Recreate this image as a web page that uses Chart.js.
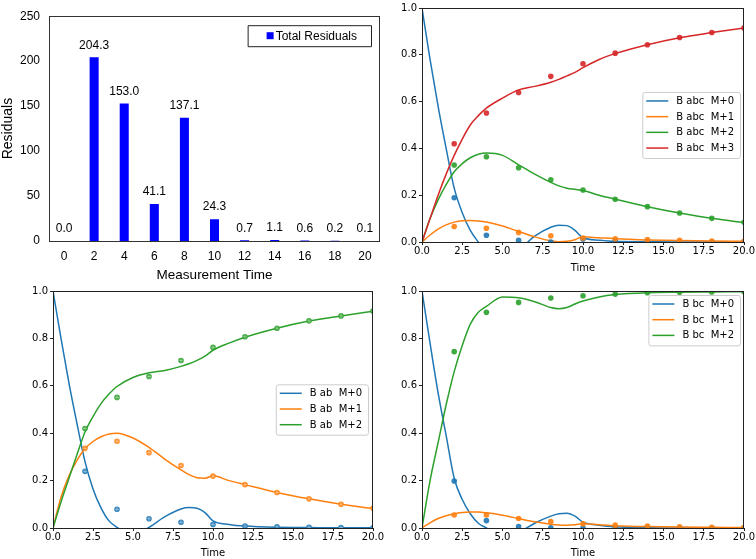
<!DOCTYPE html>
<html>
<head>
<meta charset="utf-8">
<script src="https://cdn.jsdelivr.net/npm/chart.js@4.4.1/dist/chart.umd.min.js"></script>
<style>
  body { margin: 0; background: #fff; width: 756px; height: 559px; position: relative; overflow: hidden; }
  canvas { position: absolute; }
</style>
</head>
<body>
<canvas id="bars" style="left:0;top:0" width="385" height="280"></canvas>
<canvas id="abc" style="left:385px;top:0" width="371" height="280"></canvas>
<canvas id="ab" style="left:0;top:280px" width="385" height="279"></canvas>
<canvas id="bc" style="left:385px;top:280px" width="371" height="279"></canvas>
<script>
// ---- data ----
const barTimes = ['0', '2', '4', '6', '8', '10', '12', '14', '16', '18', '20'];
const residuals = [0.0, 204.3, 153.0, 41.1, 137.1, 24.3, 0.7, 1.1, 0.6, 0.2, 0.1];
const residualTicks = [0, 50, 100, 150, 200, 250];

const measTimes = [2, 4, 6, 8, 10, 12, 14, 16, 18, 20];
const curveTimes = [0, 0.5, 1, 1.5, 2, 2.5, 3, 3.5, 4, 5, 6, 7, 8, 8.5, 9, 9.5, 10, 11, 12, 14, 16, 18, 20];
const timeTicks = [0, 2.5, 5, 7.5, 10, 12.5, 15, 17.5, 20];
const fracTicks = [0, 0.2, 0.4, 0.6, 0.8, 1.0];

// B abc (measured points)
const abcPts0 = [0.189, 0.029, 0.007, 0.0, 0.013, 0.004, 0.002, 0.001, 0.0, 0.0];
const abcPts1 = [0.066, 0.059, 0.041, 0.027, 0.017, 0.014, 0.010, 0.007, 0.004, 0.003];
const abcPts2 = [0.329, 0.364, 0.317, 0.266, 0.222, 0.183, 0.151, 0.124, 0.101, 0.084];
const abcPts3 = [0.420, 0.551, 0.639, 0.708, 0.762, 0.807, 0.843, 0.874, 0.895, 0.915];
// B abc (fitted curves)
const abcFit0 = [1.0, 0.78, 0.58, 0.40, 0.23, 0.125, 0.05, 0.0, -0.04, -0.07, -0.035, 0.025, 0.063, 0.072, 0.070, 0.050, 0.018, 0.008, 0.003, 0.001, 0.0, 0.0, 0.0];
const abcFit1 = [0.0, 0.030, 0.055, 0.073, 0.085, 0.091, 0.092, 0.090, 0.085, 0.068, 0.045, 0.022, 0.005, 0.001, 0.003, 0.010, 0.022, 0.018, 0.014, 0.009, 0.006, 0.004, 0.003];
const abcFit2 = [0.0, 0.10, 0.18, 0.245, 0.30, 0.335, 0.36, 0.375, 0.38, 0.37, 0.33, 0.29, 0.255, 0.24, 0.23, 0.225, 0.22, 0.20, 0.183, 0.151, 0.124, 0.101, 0.083];
const abcFit3 = [0.0, 0.10, 0.20, 0.29, 0.37, 0.44, 0.50, 0.54, 0.572, 0.615, 0.65, 0.665, 0.683, 0.695, 0.71, 0.725, 0.745, 0.78, 0.805, 0.843, 0.873, 0.895, 0.915];

// B ab
const abPts0 = [0.239, 0.079, 0.039, 0.024, 0.015, 0.008, 0.005, 0.003, 0.002, 0.001];
const abPts1 = [0.336, 0.366, 0.318, 0.264, 0.219, 0.183, 0.150, 0.123, 0.100, 0.083];
const abPts2 = [0.420, 0.551, 0.639, 0.707, 0.762, 0.807, 0.843, 0.874, 0.895, 0.915];
const abFit0 = [1.0, 0.80, 0.61, 0.44, 0.28, 0.165, 0.085, 0.03, 0.003, -0.03, 0.003, 0.048, 0.08, 0.086, 0.083, 0.065, 0.03, 0.015, 0.008, 0.003, 0.002, 0.001, 0.001];
const abFit1 = [0.0, 0.13, 0.22, 0.285, 0.335, 0.365, 0.385, 0.397, 0.40, 0.38, 0.34, 0.29, 0.245, 0.225, 0.212, 0.21, 0.22, 0.20, 0.183, 0.15, 0.123, 0.10, 0.082];
const abFit2 = [0.0, 0.11, 0.21, 0.31, 0.405, 0.47, 0.525, 0.565, 0.597, 0.635, 0.655, 0.665, 0.682, 0.693, 0.707, 0.725, 0.75, 0.78, 0.805, 0.843, 0.873, 0.895, 0.915];

// B bc
const bcPts0 = [0.198, 0.031, 0.006, 0.001, 0.0, 0.0, 0.0, 0.0, 0.0, 0.0];
const bcPts1 = [0.055, 0.055, 0.040, 0.027, 0.018, 0.012, 0.008, 0.005, 0.003, 0.002];
const bcPts2 = [0.744, 0.910, 0.952, 0.970, 0.980, 0.987, 0.993, 0.995, 0.996, 0.997];
const bcFit0 = [1.0, 0.78, 0.57, 0.39, 0.21, 0.12, 0.06, 0.02, 0.0, -0.05, -0.02, 0.02, 0.05, 0.06, 0.062, 0.05, 0.025, 0.012, 0.005, 0.001, 0.0, 0.0, 0.0];
const bcFit1 = [0.0, 0.022, 0.040, 0.052, 0.060, 0.065, 0.067, 0.067, 0.064, 0.054, 0.040, 0.026, 0.016, 0.013, 0.012, 0.014, 0.018, 0.014, 0.010, 0.006, 0.004, 0.003, 0.002];
const bcFit2 = [0.0, 0.20, 0.36, 0.52, 0.66, 0.77, 0.86, 0.91, 0.935, 0.975, 0.972, 0.955, 0.93, 0.925, 0.93, 0.945, 0.958, 0.975, 0.985, 0.993, 0.995, 0.996, 0.997];

const colors = ['#1f77b4', '#ff7f0e', '#2ca02c', '#d62728'];
const mplFont = '"DejaVu Sans", sans-serif';
const arialFont = '"Liberation Sans", Arial, sans-serif';

// frame round the plot area, like matplotlib spines
const framePlugin = {
  id: 'frame',
  afterDatasetsDraw(chart, args, opts) {
    const a = chart.chartArea, ctx = chart.ctx;
    ctx.save();
    ctx.strokeStyle = opts.color || '#222';
    ctx.lineWidth = 1;
    ctx.strokeRect(Math.round(a.left) + 0.5, Math.round(a.top) + 0.5,
      Math.round(a.right - a.left) - 1, Math.round(a.bottom - a.top));
    ctx.restore();
  }
};

// legend drawn inside the plot area
const boxLegend = {
  id: 'boxLegend',
  afterDraw(chart, args, o) {
    if (!o || !o.enabled) return;
    const ctx = chart.ctx, a = chart.chartArea;
    const items = chart.data.datasets.filter(d => d.label);
    ctx.save();
    ctx.font = o.font;
    const textW = Math.max(...items.map(d => ctx.measureText(d.label).width));
    const w = o.padL + o.sample + o.gap + textW + o.padR;
    const h = o.padT + (items.length - 1) * o.row + o.padB;
    const x = a.right - o.margin - w;
    const y = o.vAlign === 'center' ? (a.top + a.bottom) / 2 - h / 2 : a.top + o.margin;
    ctx.fillStyle = 'rgba(255,255,255,0.85)';
    ctx.strokeStyle = o.edge;
    ctx.lineWidth = 1;
    ctx.beginPath();
    if (o.radius) ctx.roundRect(x + 0.5, y + 0.5, w, h, o.radius);
    else ctx.rect(x + 0.5, y + 0.5, w, h);
    ctx.fill();
    ctx.stroke();
    items.forEach((d, i) => {
      const cy = y + o.padT + i * o.row;
      const sx = x + o.padL;
      if (o.marker === 'square') {
        ctx.fillStyle = d.backgroundColor;
        ctx.fillRect(sx, cy - o.sample / 2, o.sample, o.sample);
      } else {
        ctx.strokeStyle = d.borderColor;
        ctx.lineWidth = 1.5;
        ctx.beginPath();
        ctx.moveTo(sx, cy);
        ctx.lineTo(sx + o.sample, cy);
        ctx.stroke();
      }
      ctx.fillStyle = '#000';
      ctx.textBaseline = 'middle';
      ctx.textAlign = 'left';
      ctx.fillText(d.label, sx + o.sample + o.gap, cy + 0.5);
    });
    ctx.restore();
  }
};

// value labels above the bars
const barValues = {
  id: 'barValues',
  afterDatasetsDraw(chart) {
    const ctx = chart.ctx;
    const meta = chart.getDatasetMeta(0);
    ctx.save();
    ctx.font = '12px ' + arialFont;
    ctx.fillStyle = '#000';
    ctx.textAlign = 'center';
    ctx.textBaseline = 'bottom';
    meta.data.forEach((bar, i) => {
      ctx.fillText(residuals[i].toFixed(1), bar.x, bar.y - 6);
    });
    ctx.restore();
  }
};

new Chart(document.getElementById('bars'), {
  type: 'bar',
  data: {
    labels: barTimes,
    datasets: [{
      label: 'Total Residuals',
      data: residuals,
      backgroundColor: '#0000ff',
      barPercentage: 0.3,
      categoryPercentage: 1.0
    }]
  },
  options: {
    responsive: false,
    animation: false,
    layout: { padding: { top: 7, right: 5, left: 0, bottom: 0 } },
    plugins: {
      legend: { display: false },
      tooltip: { enabled: false },
      frame: { color: '#333' },
      boxLegend: {
        enabled: true, font: '12px ' + arialFont, marker: 'square', edge: '#222', radius: 0,
        padL: 19, sample: 7, gap: 2, padR: 14, padT: 10.5, padB: 10.5, row: 16,
        margin: 9, vAlign: 'top'
      }
    },
    scales: {
      x: {
        grid: { display: false, drawTicks: false },
        border: { display: false },
        ticks: { color: '#000', font: { family: arialFont, size: 12 }, padding: 8, maxRotation: 0 },
        title: { display: true, text: 'Measurement Time', color: '#000', font: { family: arialFont, size: 13.5 }, padding: { top: 0, bottom: -3 } },
        afterFit(s) { s.height = 39; }
      },
      y: {
        min: 0, max: 250,
        afterBuildTicks(s) { s.ticks = residualTicks.map(v => ({ value: v })); },
        grid: { display: false, drawTicks: false },
        border: { display: false },
        ticks: { color: '#000', font: { family: arialFont, size: 12 }, padding: 9 },
        title: { display: true, text: 'Residuals', color: '#000', font: { family: arialFont, size: 14 }, padding: { top: 0, bottom: 0 } },
        afterFit(s) { s.width = 49; }
      }
    }
  },
  plugins: [barValues, framePlugin, boxLegend]
});

function fractionChart(id, names, fits, pts, legend, pad, yW, xH, titlePad, errCross) {
  const datasets = [];
  fits.forEach((f, i) => datasets.push({
    label: names[i],
    data: curveTimes.map((t, k) => ({ x: t, y: f[k] })),
    borderColor: colors[i],
    backgroundColor: colors[i],
    borderWidth: 1.5,
    pointRadius: 0,
    showLine: true,
    cubicInterpolationMode: 'monotone',
    clip: 0,
    order: 10 + (fits.length - i)
  }));
  pts.forEach((p, i) => datasets.push({
    data: measTimes.map((t, k) => ({ x: t, y: p[k] })),
    backgroundColor: colors[i] + 'e6',
    borderColor: colors[i],
    borderWidth: 0,
    pointRadius: 2.8,
    showLine: false,
    clip: 0,
    order: fits.length - i + 1
  }));
  if (errCross) {
    // tiny error bars seen inside the markers
    pts.forEach((p, i) => datasets.push({
      data: measTimes.map((t, k) => ({ x: t, y: p[k] })),
      pointStyle: 'cross',
      borderColor: 'rgba(255,255,255,0.45)',
      borderWidth: 0.8,
      pointRadius: 2.2,
      showLine: false,
      clip: 0,
      order: 0
    }));
  }
  const tickStyle = { color: '#000', font: { family: mplFont, size: 10 } };
  const gridStyle = { display: true, drawOnChartArea: false, drawTicks: true, tickLength: 3, color: '#222' };
  return new Chart(document.getElementById(id), {
    type: 'scatter',
    data: { datasets },
    options: {
      responsive: false,
      animation: false,
      layout: { padding: pad },
      plugins: {
        legend: { display: false },
        tooltip: { enabled: false },
        frame: { color: '#222' },
        boxLegend: Object.assign({
          enabled: true, font: '10px ' + mplFont, edge: '#cccccc', radius: 2.5,
          padL: 4, sample: 22, gap: 8, padR: 6, padT: 9, padB: 10, row: 15.7, margin: 4
        }, legend)
      },
      scales: {
        x: {
          type: 'linear', min: 0, max: 20,
          afterBuildTicks(s) { s.ticks = timeTicks.map(v => ({ value: v })); },
          grid: gridStyle,
          border: { display: false },
          ticks: Object.assign({ padding: 0, maxRotation: 0, autoSkip: false, callback: v => v.toFixed(1) }, tickStyle),
          title: { display: true, text: 'Time', color: '#000', font: { family: mplFont, size: 10 }, padding: { top: 0, bottom: titlePad } },
          afterFit(s) { s.height = xH; }
        },
        y: {
          min: 0, max: 1,
          afterBuildTicks(s) { s.ticks = fracTicks.map(v => ({ value: v })); },
          grid: gridStyle,
          border: { display: false },
          ticks: Object.assign({ padding: 2, callback: v => v.toFixed(1) }, tickStyle),
          afterFit(s) { s.width = yW; }
        }
      }
    },
    plugins: [framePlugin, boxLegend]
  });
}

fractionChart('abc', ['B abc  M+0', 'B abc  M+1', 'B abc  M+2', 'B abc  M+3'],
  [abcFit0, abcFit1, abcFit2, abcFit3], [abcPts0, abcPts1, abcPts2, abcPts3],
  { vAlign: 'center' }, { top: 4, right: 12, left: 0, bottom: 0 }, 37, 38, 6, false);

fractionChart('ab', ['B ab  M+0', 'B ab  M+1', 'B ab  M+2'],
  [abFit0, abFit1, abFit2], [abPts0, abPts1, abPts2],
  { vAlign: 'center', margin: 5 }, { top: 11, right: 12, left: 0, bottom: 0 }, 53, 31, 0, true);

fractionChart('bc', ['B bc  M+0', 'B bc  M+1', 'B bc  M+2'],
  [bcFit0, bcFit1, bcFit2], [bcPts0, bcPts1, bcPts2],
  { vAlign: 'top' }, { top: 11, right: 12, left: 0, bottom: 0 }, 37, 31, 0, false);
</script>
</body>
</html>
